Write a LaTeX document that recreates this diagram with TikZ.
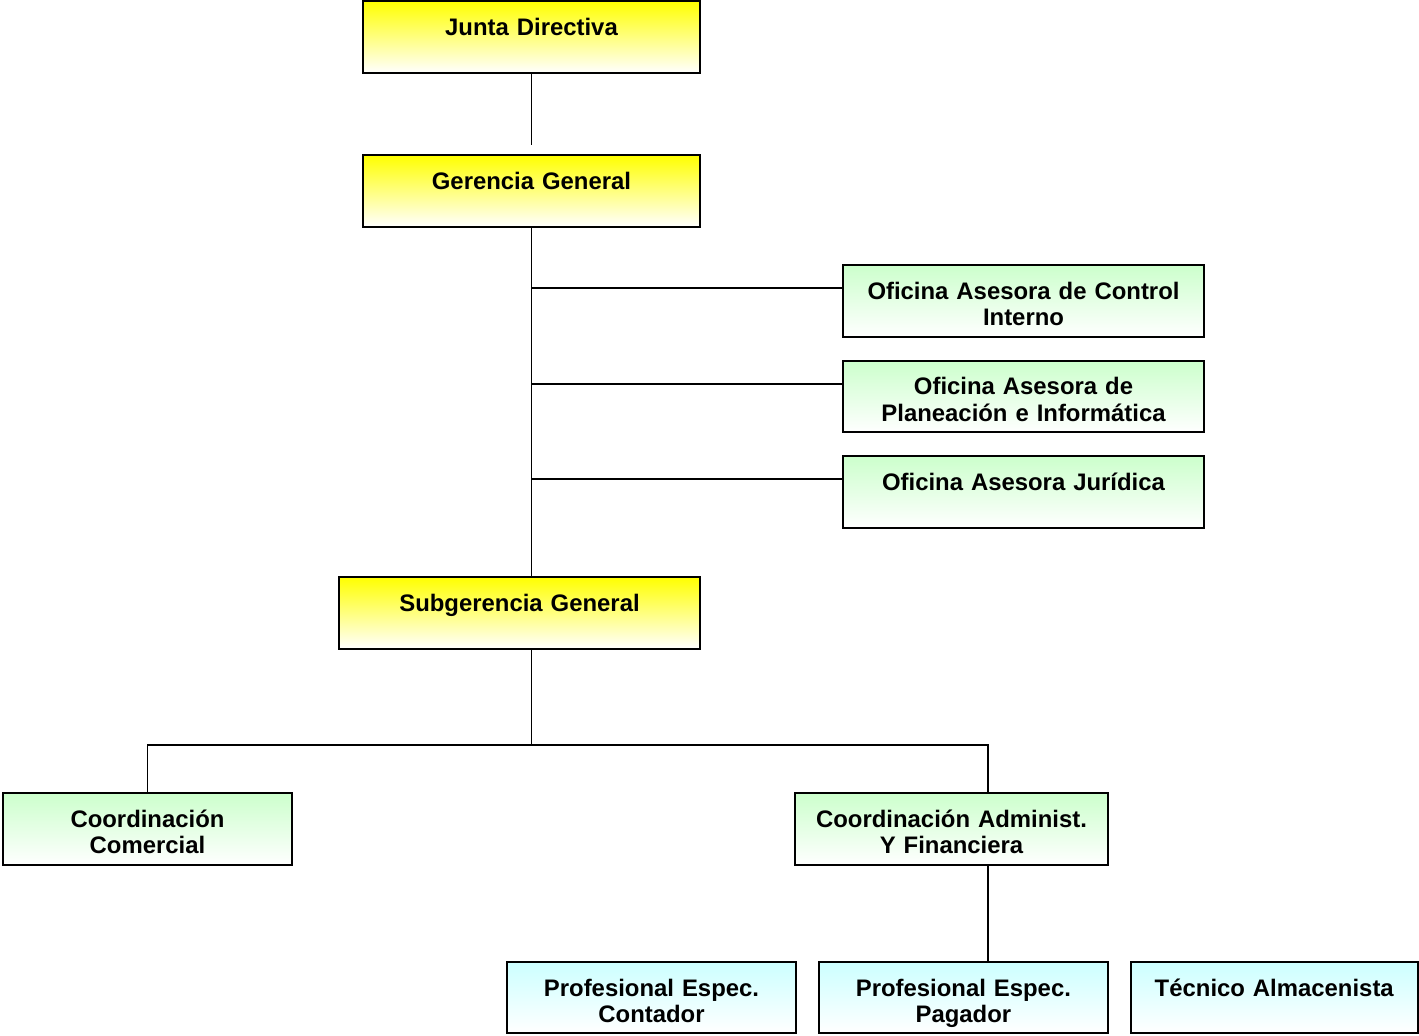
\documentclass[tikz,border=0pt]{standalone}
\usepackage{fontspec}
\setmainfont{Liberation Sans}
\usetikzlibrary{positioning}
\definecolor{orgYellow}{HTML}{FFFF00}
\definecolor{orgGreen}{HTML}{CCFFCC}
\definecolor{orgCyan}{HTML}{CCFFFF}

\begin{document}
\begin{tikzpicture}[
  x=0.02cm, y=-0.02cm,
  font=\fontsize{13.6}{15.3}\selectfont\bfseries,
  unit/.style={draw=black, line width=1.1pt, rectangle, align=center,
               inner xsep=0pt, inner ysep=0pt, text height=19.3pt,
               text depth=21.5pt, bottom color=white},
  board/.style={unit, top color=orgYellow},
  office/.style={unit, top color=orgGreen},
  staff/.style={unit, top color=orgCyan, text depth=20.9pt},
  link/.style={line width=1.1pt, draw=black}
]
\useasboundingbox (0,0) rectangle (1419,1035);

\node[board, text width=6.74cm] (junta) at (531.5,37) {Junta Directiva};
\node[board, text width=6.74cm] (gerencia) at (531.5,191) {Gerencia General};

\node[office, text width=7.22cm] (control) at (1023.5,301) {Oficina Asesora de Control\\Interno};
\node[office, text width=7.22cm, below=0.44cm of control] (planeacion) {Oficina Asesora de\\Planeaci\'on e Inform\'atica};
\node[office, text width=7.22cm, below=0.44cm of planeacion] (juridica) {Oficina Asesora Jur\'idica};

\node[board, text width=7.22cm] (subgerencia) at (519.5,613) {Subgerencia General};

\node[office, text width=5.78cm] (comercial) at (147.5,829) {Coordinaci\'on\\Comercial};
\node[office, text width=6.26cm] (administ) at (951.5,829) {Coordinaci\'on Administ.\\ Y Financiera};

\node[staff, text width=5.78cm] (contador) at (651.5,997.5) {Profesional Espec.\\Contador};
\node[staff, text width=5.78cm, right=0.42cm of contador] (pagador) {Profesional Espec.\\Pagador};
\node[staff, text width=5.74cm, right=0.42cm of pagador] (tecnico) {T\'ecnico Almacenista};

\coordinate (busL) at (147.5,745);
\coordinate (busR) at (988,745);
\coordinate (juntaEnd) at (531.5,145);
\coordinate (controlIn) at ([yshift=-0.48cm]control.north west);
\coordinate (planeacionIn) at ([yshift=-0.48cm]planeacion.north west);
\coordinate (juridicaIn) at ([yshift=-0.48cm]juridica.north west);

\draw[link] (junta.south) -- (juntaEnd);
\draw[link] (gerencia.south) -- (gerencia.south |- subgerencia.north);
% ramales de las oficinas asesoras
\draw[link] (gerencia.south |- controlIn) -- (controlIn);
\draw[link] (gerencia.south |- planeacionIn) -- (planeacionIn);
\draw[link] (gerencia.south |- juridicaIn) -- (juridicaIn);
\draw[link] (gerencia.south |- subgerencia.south) -- (gerencia.south |- busL);
\draw[link] (comercial.north) -- (busL) -- (busR) -- (busR |- administ.north);
\draw[link] (busR |- administ.south) -- (busR |- pagador.north);

\end{tikzpicture}
\end{document}
